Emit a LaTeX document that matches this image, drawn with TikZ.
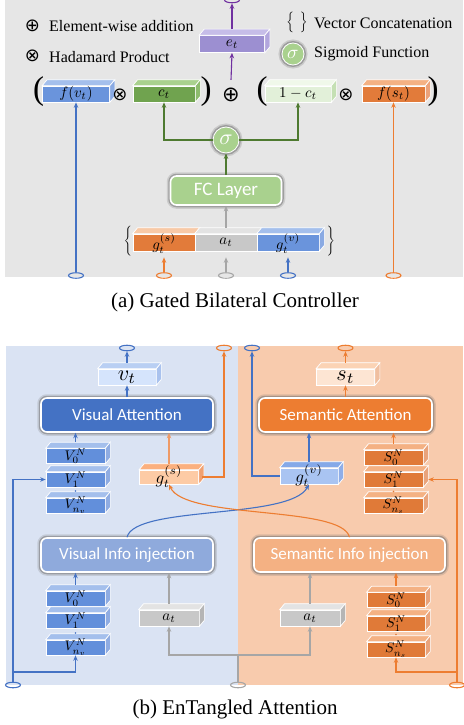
\documentclass[tikz,border=0pt]{standalone}
\usepackage{graphicx}
\usepackage{fontspec}
\setmainfont{Liberation Serif}
\newfontfamily\calib{Carlito}
\newfontfamily\djv{DejaVu Sans}
\usetikzlibrary{arrows.meta,shapes.geometric}

\definecolor{bga}{HTML}{E6E6E6}
\definecolor{bgb}{HTML}{DAE3F3}
\definecolor{bgo}{HTML}{F8CBAD}
\definecolor{bl}{HTML}{4472C4}
\definecolor{or}{HTML}{ED7D31}
\definecolor{orl}{HTML}{EE9A66}
\definecolor{gr}{HTML}{A6A6A6}
\definecolor{gn}{HTML}{4E7A30}
\definecolor{pur}{HTML}{7030A0}
% cuboid colours
\definecolor{cFv}{HTML}{6A94DC}\definecolor{cFvT}{HTML}{A4BFEC}\definecolor{cFvS}{HTML}{8AAAE3}
\definecolor{cCt}{HTML}{70A34F}\definecolor{cCtT}{HTML}{A9D18E}\definecolor{cCtS}{HTML}{8DBB6D}
\definecolor{cOm}{HTML}{E2F0D9}\definecolor{cOmT}{HTML}{F0F8EA}\definecolor{cOmS}{HTML}{C5E0B4}
\definecolor{cFs}{HTML}{E27B3A}\definecolor{cFsT}{HTML}{F4B183}\definecolor{cFsS}{HTML}{EBA27A}
\definecolor{cEt}{HTML}{9C8FD1}\definecolor{cEtT}{HTML}{C6BDE8}\definecolor{cEtS}{HTML}{B2A6DD}
\definecolor{cAt}{HTML}{C8C8C8}\definecolor{cAtT}{HTML}{E3E3E3}\definecolor{cAtS}{HTML}{B5B5B5}
\definecolor{cGsA}{HTML}{F8C9A6}
\definecolor{cvt}{HTML}{D5E4FC}\definecolor{cvtT}{HTML}{B9CFF3}\definecolor{cvtS}{HTML}{A9C2EE}
\definecolor{cV}{HTML}{628FDB}\definecolor{cVT}{HTML}{A4BFEC}\definecolor{cVS}{HTML}{8FACE2}
\definecolor{cgs}{HTML}{FDCBA5}\definecolor{cgsT}{HTML}{FBB07E}\definecolor{cgsS}{HTML}{F0A070}
\definecolor{cgv}{HTML}{A9C4F2}\definecolor{cgvT}{HTML}{85A9E8}\definecolor{cgvS}{HTML}{8FAEE8}
\definecolor{cS}{HTML}{E07A38}\definecolor{cST}{HTML}{F4B183}\definecolor{cSS}{HTML}{E9A37B}
\definecolor{cst}{HTML}{FDE5D3}\definecolor{cstT}{HTML}{FBD3B5}\definecolor{cstS}{HTML}{F0BFA0}
\definecolor{cFC}{HTML}{A9D18E}
\definecolor{cVA}{HTML}{4472C4}
\definecolor{cSA}{HTML}{ED7D31}
\definecolor{cVI}{HTML}{8FAADC}
\definecolor{cSI}{HTML}{F4B183}

\tikzset{
  cubface/.style={draw=white, line width=0.7pt, inner sep=0pt},
  cubedge/.style={draw=white, line width=0.7pt},
  lab/.style={inner sep=0pt},
  glowbox/.style={rounded corners=6pt, draw=white, line width=1.6pt, inner sep=0pt, text=white,
    preaction={draw=black!55, line width=7.5pt, opacity=0.22},
    preaction={draw=black!60, line width=4.5pt, opacity=0.45}},
  sig/.style={circle, fill=cFC, draw=white, line width=0.8pt, text=white, inner sep=0pt,
    preaction={draw=black!55, line width=7pt, opacity=0.25},
    preaction={draw=black!60, line width=4pt, opacity=0.45}},
  conn/.style={line width=1.1pt},
  arr/.style={conn, -{Stealth[length=5.5pt,width=4.5pt]}},
  ell/.style={ellipse, draw, line width=1.1pt, minimum width=15pt, minimum height=5.5pt, inner sep=0pt},
  dotn/.style={circle, inner sep=0pt, minimum size=1.6pt},
  txt/.style={inner sep=0pt, font=\fontsize{16}{16}\selectfont},
  opsym/.style={inner sep=0pt, font=\djv\fontsize{#1}{#1}\selectfont},
  paren/.style={inner sep=0pt, font=\fontsize{33}{33}\selectfont},
}

\newcommand\cubfront[6]{%
  \node[cubface, fill=#6, minimum width=#4pt, minimum height=#5pt] (#1) at (#2,#3) {};
  \coordinate (#1-t) at ([yshift=6pt]#1.north);}
\newcommand\cubtop[2]{%
  \filldraw[fill=#2, cubedge] (#1.north west) -- ++(5pt,6pt) -- ([shift={(5pt,6pt)}]#1.north east) -- (#1.north east) -- cycle;}
\newcommand\cubside[2]{%
  \filldraw[fill=#2, cubedge] (#1.north east) -- ++(5pt,6pt) -- ([shift={(5pt,6pt)}]#1.south east) -- (#1.south east) -- cycle;}
\newcommand\cuboid[9]{\cubfront{#1}{#2}{#3}{#4}{#5}{#6}\cubtop{#1}{#7}\cubside{#1}{#8}\node[lab] (#1-l) at (#1) {#9};}
% math label scaled from 10pt: #1 = scale factor
\newcommand\mlab[2]{\scalebox{#1}{$#2$}}
\newcommand\bigdel[1]{$\Bigg#1$}

\begin{document}
\begin{tikzpicture}[x=1pt,y=-1pt]
\useasboundingbox (0,0) rectangle (463,725);

% ================= (a) =================
\fill[bga] (5,0) rectangle (463,277);

% legend
\node[opsym=18] (lgplus) at (32.5,26) {⊕};
\node[txt, anchor=west] (lgplust) at (49,26) {Element-wise addition};
\node[opsym=18] (lgotimes) at (32.5,56) {⊗};
\node[txt, anchor=west] (lgotimest) at (49,57) {Hadamard Product};
\node[inner sep=0pt] (lgbrace) at (297,22.5) {\scalebox{1.15}{$\Big\{\hspace{5pt}\Big\}$}};
\node[txt, anchor=west] (lgbracet) at (314,23) {Vector Concatenation};
\node[sig, minimum size=22pt] (lgsig) at (293,54) {\mlab{1.9}{\sigma}};
\node[txt, anchor=west] (lgsigt) at (314,54) {Sigmoid Function};

% e_t
\cuboid{et}{232}{44}{65}{17}{cEt}{cEtT}{cEtS}{\mlab{1.5}{e_t}}
\node[ell, draw=pur] (eet) at (232,0) {};
\draw[arr, pur] (et-t) -- (eet.south);

% main row
\node[paren] (pl1) at (38.5,92) {(};
\cuboid{fvt}{76}{94}{67}{16}{cFv}{cFvT}{cFvS}{\mlab{1.5}{f(v_t)}}
\node[opsym=18] (otA) at (120,95) {⊗};
\cuboid{ct}{164}{94}{62}{16}{cCt}{cCtT}{cCtS}{\mlab{1.5}{c_t}}
\node[paren] (pr1) at (206,92) {)};
\node[opsym=21] (oplus) at (231,95) {⊕};
\node[paren] (pl2) at (262,92) {(};
\cuboid{omc}{298}{94}{66}{16}{cOm}{cOmT}{cOmS}{\mlab{1.5}{1-c_t}}
\node[opsym=18] (otB) at (346,95) {⊗};
\cuboid{fst}{393.5}{94}{63}{16}{cFs}{cFsT}{cFsS}{\mlab{1.5}{f(s_t)}}
\node[paren] (pr2) at (433,92) {)};
\draw[arr, pur] ([yshift=8pt]oplus.north) -- (et.south);

% sigma and FC
\node[sig, minimum size=26pt] (sigA) at (226,140) {\mlab{2.2}{\sigma}};
\node[glowbox, fill=cFC, minimum width=111pt, minimum height=29pt, font=\calib\fontsize{19}{19}\selectfont] (fc) at (226,190.5) {FC Layer};
\draw[arr, gn] (fc.north) -- (sigA.south);
\draw[arr, gn] (sigA.west) -| (ct.south);
\draw[arr, gn] (sigA.east) -| (omc.south);

% concatenation row
\cubfront{gsA}{164}{242.5}{62}{17}{cFs}
\cubfront{atA}{226}{242.5}{62}{17}{cAt}
\cubfront{gvA}{288}{242.5}{62}{17}{cFv}
\cubtop{gsA}{cGsA}\cubtop{atA}{cAtT}\cubtop{gvA}{cFvT}\cubside{gvA}{cFvS}
\node[lab] (gsA-l) at ([yshift=-1pt]gsA) {\mlab{1.5}{g_t^{(s)}}};
\node[lab] (atA-l) at (atA) {\mlab{1.5}{a_t}};
\node[lab] (gvA-l) at ([yshift=-1pt]gvA) {\mlab{1.5}{g_t^{(v)}}};
\node[inner sep=0pt] (brl) at (128,241) {\bigdel{\{}};
\node[inner sep=0pt] (brr) at (331,241) {\bigdel{\}}};
\draw[arr, gr] (atA-t) -- (fc.south);

% bottom inputs of (a)
\node[ell, draw=bl] (eA1) at (76,275.5) {};
\node[ell, draw=or] (eA2) at (164,275.5) {};
\node[ell, draw=gr] (eA3) at (226,275.5) {};
\node[ell, draw=bl] (eA4) at (288,275.5) {};
\node[ell, draw=or] (eA5) at (393.5,275.5) {};
\draw[arr, bl] (eA1.north) -- (fvt.south);
\draw[arr, or] (eA2.north) -- ([yshift=-6pt]gsA.south);
\draw[arr, gr] (eA3.north) -- ([yshift=-6pt]atA.south);
\draw[arr, bl] (eA4.north) -- ([yshift=-6pt]gvA.south);
\draw[arr, or] (eA5.north) -- (fst.south);

\node[inner sep=0pt, font=\fontsize{21}{21}\selectfont] (capA) at (235,302) {(a) Gated Bilateral Controller};

% ================= (b) =================
\fill[bgb] (6,346) rectangle (238,685);
\fill[bgo] (238,346) rectangle (463,685);

\node[glowbox, fill=cVA, minimum width=172pt, minimum height=34pt, font=\calib\fontsize{17}{17}\selectfont] (visatt) at (127,415) {Visual Attention};
\node[glowbox, fill=cSA, minimum width=173pt, minimum height=34pt, font=\calib\fontsize{17}{17}\selectfont] (semat) at (345.5,415) {Semantic Attention};
\node[glowbox, fill=cVI, minimum width=172pt, minimum height=34pt, font=\calib\fontsize{17}{17}\selectfont] (visinfo) at (127,555) {Visual Info injection};
\node[glowbox, fill=cSI, minimum width=191pt, minimum height=34pt, font=\calib\fontsize{17}{17}\selectfont] (seminfo) at (349.5,555) {Semantic Info injection};

\cuboid{vt}{127}{377}{58}{16}{cvt}{cvtT}{cvtS}{\mlab{2.2}{v_t}}
\cuboid{st}{345.5}{377}{58}{16}{cst}{cstT}{cstS}{\mlab{2.2}{s_t}}

% upper stacks
\cuboid{vu0}{75.5}{456}{59}{15}{cV}{cVT}{cVS}{\mlab{1.4}{V_0^N}}
\cuboid{vu1}{75.5}{479.5}{59}{15}{cV}{cVT}{cVS}{\mlab{1.4}{V_1^N}}
\cuboid{vun}{75.5}{505.5}{59}{15}{cV}{cVT}{cVS}{\mlab{1.4}{V_{n_v}^N}}
\node[dotn, fill=bl] (vud) at (75.5,491) {};
\cuboid{su0}{393.5}{457.5}{59}{15}{cS}{cST}{cSS}{\mlab{1.4}{S_0^N}}
\cuboid{su1}{393.5}{479.5}{59}{15}{cS}{cST}{cSS}{\mlab{1.4}{S_1^N}}
\cuboid{sun}{393.5}{505.5}{59}{15}{cS}{cST}{cSS}{\mlab{1.4}{S_{n_s}^N}}
\node[dotn, fill=cS] (sud) at (393.5,491.5) {};

\cuboid{gsB}{169}{477}{59}{14}{cgs}{cgsT}{cgsS}{\raisebox{-4pt}{\mlab{1.7}{g_t^{(s)}}}}
\cuboid{gvB}{309}{476}{58}{16}{cgv}{cgvT}{cgvS}{\raisebox{-4pt}{\mlab{1.7}{g_t^{(v)}}}}

% lower stacks
\cuboid{vl0}{75.5}{598.5}{59}{15}{cV}{cVT}{cVS}{\mlab{1.4}{V_0^N}}
\cuboid{vl1}{75.5}{620.5}{59}{15}{cV}{cVT}{cVS}{\mlab{1.4}{V_1^N}}
\cuboid{vln}{75.5}{647.5}{59}{15}{cV}{cVT}{cVS}{\mlab{1.4}{V_{n_v}^N}}
\node[dotn, fill=bl] (vld) at (75.5,633) {};
\cuboid{sl0}{396}{600}{58}{15}{cS}{cST}{cSS}{\mlab{1.4}{S_0^N}}
\cuboid{sl1}{396}{623.5}{58}{15}{cS}{cST}{cSS}{\mlab{1.4}{S_1^N}}
\cuboid{sln}{396}{649.5}{58}{15}{cS}{cST}{cSS}{\mlab{1.4}{S_{n_s}^N}}
\node[dotn, fill=cS] (sld) at (396,634.5) {};

\cuboid{atl}{169}{618}{60}{16}{cAt}{cAtT}{cAtS}{\mlab{1.5}{a_t}}
\cuboid{atr}{310}{618}{60}{16}{cAt}{cAtT}{cAtS}{\mlab{1.5}{a_t}}

% top outputs
\node[ell, draw=bl] (evt) at (127,348) {};
\node[ell, draw=or] (egs) at (224,348) {};
\node[ell, draw=bl] (egv) at (252,348) {};
\node[ell, draw=or] (est) at (345.5,348) {};
\draw[arr, bl] (vt-t) -- (evt.south);
\draw[arr, bl] (visatt.north) -- (visatt.north |- vt.south);
\draw[arr, or] (st-t) -- (est.south);
\draw[arr, or] (semat.north) -- (semat.north |- st.south);
\draw[arr, bl] (vu0-t) -- (vu0-t |- visatt.south);
\draw[arr, orl] (gsB-t) -- (gsB-t |- visatt.south);
\draw[arr, or] ([xshift=3pt]gsB.east) -| (egs.south);
\draw[arr, bl] (gvB.west) -| (egv.south);
\draw[arr, bl] (gvB-t) -- (gvB-t |- semat.south);
\draw[arr, or] (su0-t) -- (su0-t |- semat.south);

% entangling curves
\draw[arr, bl] (visinfo.north) .. controls (135,505) and (290,520) .. (gvB.south);
\draw[arr, or] (seminfo.north) .. controls (342,505) and (185,520) .. (gsB.south);

% lower connectors
\draw[arr, bl] (vl0-t) -- (vl0-t |- visinfo.south);
\draw[arr, gr] (atl-t) -- (atl-t |- visinfo.south);
\draw[arr, gr] (atr-t) -- (atr-t |- seminfo.south);
\draw[arr, or] (sl0-t) -- (sl0-t |- seminfo.south);

% bottom inputs of (b)
\node[ell, draw=bl] (ebB) at (13,685) {};
\node[ell, draw=gr] (egB) at (238,685) {};
\node[ell, draw=or] (eoB) at (457,685) {};
\coordinate (bjb) at (13,672);
\coordinate (gj) at (238,655);
\coordinate (bjo) at (457,672);
\draw[arr, bl] (ebB.north) |- (vu1.west);
\draw[arr, bl] (bjb) -| (vln.south);
\draw[conn, gr] (egB.north) -- (gj);
\draw[arr, gr] (gj) -| (atl.south);
\draw[arr, gr] (gj) -| (atr.south);
\draw[arr, or] (eoB.north) |- ([xshift=5pt]su1.east);
\draw[arr, or] (bjo) -| (sln.south);

\node[inner sep=0pt, font=\fontsize{21}{21}\selectfont] (capB) at (235,709) {(b) EnTangled Attention};
\end{tikzpicture}
\end{document}
